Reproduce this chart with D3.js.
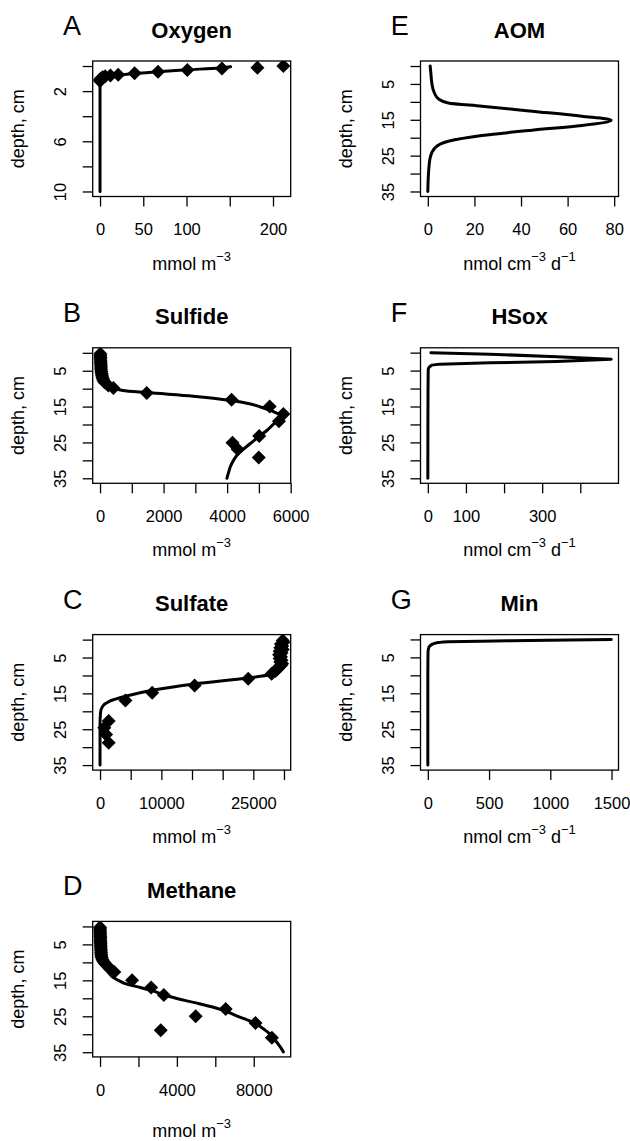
<!DOCTYPE html>
<html>
<head>
<meta charset="utf-8">
<script src="https://cdn.jsdelivr.net/npm/d3@7"></script>
<style>
    body { margin: 0; background: #fff; }
    svg text { font-family: "Liberation Sans", Arial, Helvetica, sans-serif; fill: #000; }
</style>
</head>
<body>
<div id="chart"></div>
<script>
// ---- values ----

// A: oxygen, observations + model
const oxygenObsDepth = [0.0, 0.13, 0.2, 0.32, 0.45, 0.58, 0.7, 0.75, 0.82, 0.9, 1.0, 1.1, 1.2];
const oxygenObsValue = [212, 182, 141, 101, 67, 40, 21, 12, 6, 3, 1, 0, 0];
const oxygenModelDepth = [0.05, 0.15, 0.3, 0.45, 0.6, 0.75, 0.9, 1.05, 1.2, 1.4, 2, 4, 6, 8, 10];
const oxygenModelValue = [151, 138, 102, 67, 40, 20, 9, 3, 1, 0, 0, 0, 0, 0, 0];

// B: sulfide
const sulfideObsDepth = [0.25, 0.75, 1.25, 1.75, 2.25, 2.75, 3.25, 3.75, 4.25, 4.75, 5.25, 5.75, 6.25, 6.75,
    7.25, 7.75, 8.2, 9.1, 9.8, 11.2, 13.1, 15.0, 17.1, 19.1, 23.2, 25.1, 26.9, 29.2];
const sulfideObsValue = [10, 10, 15, 15, 20, 20, 25, 30, 30, 35, 40, 50, 60, 70,
    90, 110, 140, 260, 420, 1470, 4140, 5340, 5770, 5630, 5010, 4170, 4330, 4995];
const sulfideModelDepth = [0, 2, 4, 6, 7, 8, 9, 9.7, 10.5, 11.1, 12.1, 13.3, 14.2, 15.1, 16.0, 16.8, 17.6,
    18.4, 19.8, 21.6, 23.5, 25.3, 27, 28.6, 30, 31.8, 33.5, 35];
const sulfideModelValue = [0, 10, 30, 60, 100, 170, 300, 420, 717, 1478, 2935, 4130, 4700, 5050, 5350, 5560, 5720,
    5640, 5470, 5260, 4980, 4733, 4500, 4310, 4200, 4100, 4040, 3994];

// C: sulfate
const sulfateObsDepth = [0.25, 0.75, 1.25, 1.75, 2.25, 2.75, 3.25, 3.75, 4.25, 4.75, 5.25, 5.75, 6.25, 6.75,
    7.25, 7.75, 8.25, 8.75, 9.55, 10.95, 12.8, 14.85, 17.0, 22.7, 24.6, 26.5, 28.8];
const sulfateObsValue = [29800, 29900, 29500, 29700, 29400, 29800, 29300, 29600, 29200, 29500, 29300, 29600, 29400, 29700,
    29500, 29100, 28900, 28600, 27980, 24160, 15430, 8510, 4140, 1410, 700, 980, 1410];
const sulfateModelDepth = [0, 2, 4, 6, 8, 8.8, 9.75, 10.7, 12.35, 14.1, 15.8, 17.2, 18.6, 20.4, 23.7, 30, 35];
const sulfateModelValue = [29900, 29850, 29800, 29700, 29550, 29350, 27990, 24160, 15430, 8510, 4140, 1520, 430, 80, 0, 0, 0];

// D: methane
const methaneObsDepth = [0.25, 0.75, 1.25, 1.75, 2.25, 2.75, 3.25, 3.75, 4.25, 4.75, 5.25, 5.75, 6.25, 6.75,
    7.25, 7.75, 8.25, 8.75, 9.25, 9.75, 10.25, 10.75, 11.25, 11.8, 12.7, 15.0, 17.0, 19.1, 23.0, 25.0, 26.9, 28.9, 31.0];
const methaneObsValue = [0, 5, 5, 10, 10, 15, 20, 20, 25, 30, 35, 40, 45, 50,
    55, 60, 70, 90, 130, 180, 250, 330, 420, 520, 744, 1666, 2660, 3320, 6540, 4980, 8090, 3160, 8944];
const methaneModelDepth = [0, 3, 6, 8, 9.5, 10.4, 11.5, 12.5, 13.3, 14.1, 15, 16, 17, 17.8, 18.7, 19.5, 20.5, 21.5,
    22.5, 23.6, 24.6, 25.6, 26.6, 27.7, 28.7, 29.8, 31, 32.2, 33.5, 34.9];
const methaneModelValue = [0, 10, 30, 60, 100, 137, 250, 400, 520, 656, 950, 1353, 2100, 2655, 3150, 3607, 4350, 5169,
    5900, 6559, 7000, 7450, 7944, 8300, 8560, 8813, 9000, 9200, 9380, 9542];

// E: AOM rate (model only)
const aomDepth = [0, 2, 4.7, 7.5, 9.2, 10.3, 11.2, 12.6, 14.0, 15.1, 16.6, 17.9, 19.4, 21.0, 22.8, 25.6, 29.8, 35];
const aomValue = [1.0, 1.3, 1.7, 2.8, 4.6, 8.8, 23.2, 44.7, 66.1, 78.7, 66.1, 44.7, 23.2, 8.8, 3.1, 1.0, 0.3, 0];

// F: sulfide oxidation rate
const hsoxDepth = [0.05, 0.42, 1.17, 1.81, 2.45, 2.84, 3.2, 3.48, 4.0, 4.4, 5, 10, 20, 35];
const hsoxValue = [8, 163, 338, 481, 338, 163, 32, 10, 4, 1.6, 1, 0.5, 0.2, 0];

// G: mineralisation rate
const minDepth = [0.05, 0.2, 0.35, 0.47, 0.67, 0.85, 1.1, 1.5, 1.9, 2.5, 3.4, 5, 10, 20, 35];
const minValue = [1497, 984, 650, 437, 164, 90, 55, 28, 14, 6, 2, 1, 0, 0, 0];

// ticks (R drops labels that would overlap, so only some carry text)
const oxygenTicks = [0, 50, 100, 150, 200];
const oxygenTickLabels = [0, 50, 100, 200];
const sulfideTicks = [0, 1000, 2000, 3000, 4000, 5000, 6000];
const sulfideTickLabels = [0, 2000, 4000, 6000];
const sulfateTicks = [0, 5000, 10000, 15000, 20000, 25000, 30000];
const sulfateTickLabels = [0, 10000, 25000];
const methaneTicks = [0, 2000, 4000, 6000, 8000];
const methaneTickLabels = [0, 4000, 8000];
const aomTicks = [0, 20, 40, 60, 80];
const aomTickLabels = [0, 20, 40, 60, 80];
const hsoxTicks = [0, 100, 200, 300, 400];
const hsoxTickLabels = [0, 100, 300];
const minTicks = [0, 500, 1000, 1500];
const minTickLabels = [0, 500, 1000, 1500];
const shallowDepthTicks = [0, 2, 4, 6, 8, 10];
const shallowDepthLabels = [2, 6, 10];
const deepDepthTicks = [0, 5, 10, 15, 20, 25, 30, 35];
const deepDepthLabels = [5, 15, 25, 35];

// ---- layout ----
const colLeft = [92.7, 420.5];
const rowTop = 61, rowPitch = 286.8;
const boxW = 198, boxH = 135.5;

class ProfilePanel {
    constructor(_svg, _config) {
        this.svg = _svg;
        this.config = _config;
        this.initVis();
    }

    initVis() {
        let vis = this;
        let c = vis.config;
        vis.left = colLeft[c.col];
        vis.top = rowTop + c.row * rowPitch;
        vis.width = boxW;
        vis.height = boxH;

        vis.g = vis.svg.append("g")
            .attr("transform", "translate(" + vis.left + "," + vis.top + ")");

        // R default: data range padded by 4% on both sides
        let xs = c.obsValue.concat(c.modelValue);
        let ys = c.obsDepth.concat(c.modelDepth);
        let xMin = d3.min(xs), xMax = d3.max(xs);
        let yMin = d3.min(ys), yMax = d3.max(ys);
        let xPad = 0.04 * (xMax - xMin), yPad = 0.04 * (yMax - yMin);

        vis.x = d3.scaleLinear()
            .domain([xMin - xPad, xMax + xPad])
            .range([0, vis.width]);
        vis.y = d3.scaleLinear()
            .domain([yMin - yPad, yMax + yPad])
            .range([0, vis.height]);   // depth grows downwards

        vis.updateVis();
    }

    updateVis() {
        let vis = this;
        let c = vis.config;

        let clipId = "clip-" + c.letter;
        vis.g.append("clipPath").attr("id", clipId)
            .append("rect").attr("width", vis.width).attr("height", vis.height);

        let plotArea = vis.g.append("g").attr("clip-path", "url(#" + clipId + ")");

        // observations: filled diamonds
        let obs = c.obsDepth.map((d, i) => [c.obsValue[i], d]);
        plotArea.selectAll(".obs")
            .data(obs)
            .enter().append("path")
            .attr("class", "obs")
            .attr("d", "M0,-7L7,0L0,7L-7,0Z")
            .attr("transform", d => "translate(" + vis.x(d[0]) + "," + vis.y(d[1]) + ")")
            .attr("fill", "#000");

        // model profile
        let model = c.modelDepth.map((d, i) => [c.modelValue[i], d]);
        let line = d3.line()
            .x(d => vis.x(d[0]))
            .y(d => vis.y(d[1]))
            .curve(c.curve);
        plotArea.append("path")
            .datum(model)
            .attr("d", line)
            .attr("fill", "none")
            .attr("stroke", "#000")
            .attr("stroke-width", 3)
            .attr("stroke-linejoin", "round")
            .attr("stroke-linecap", "round");

        // box
        vis.g.append("rect")
            .attr("width", vis.width).attr("height", vis.height)
            .attr("fill", "none").attr("stroke", "#000").attr("stroke-width", 1.3);

        // x axis
        let xAxis = d3.axisBottom(vis.x)
            .tickValues(c.xTicks)
            .tickSize(10).tickSizeOuter(0).tickPadding(17)
            .tickFormat(d => c.xLabels.includes(d) ? d : "");
        let gx = vis.g.append("g")
            .attr("transform", "translate(0," + vis.height + ")")
            .call(xAxis)
            .attr("font-size", null).attr("font-family", null);
        gx.select(".domain").remove();
        gx.selectAll("line").attr("stroke-width", 1.3);
        gx.selectAll("text").style("font-size", "16.5px");

        // y axis, labels parallel to the axis
        let yAxis = d3.axisLeft(vis.y)
            .tickValues(c.yTicks)
            .tickSize(10).tickSizeOuter(0)
            .tickFormat(d => c.yLabels.includes(d) ? d : "");
        let gy = vis.g.append("g")
            .call(yAxis)
            .attr("font-size", null).attr("font-family", null);
        gy.select(".domain").remove();
        gy.selectAll("line").attr("stroke-width", 1.3);
        gy.selectAll("text")
            .style("font-size", "16.5px")
            .attr("transform", "rotate(-90)")
            .attr("x", 0).attr("y", -27).attr("dy", null)
            .attr("text-anchor", "middle");

        // titles
        vis.g.append("text")
            .attr("x", vis.width / 2).attr("y", -23.5)
            .attr("text-anchor", "middle")
            .style("font-size", "22px").style("font-weight", "bold")
            .text(c.title);
        vis.g.append("text")
            .attr("x", -29.7).attr("y", -26)
            .style("font-size", "27px")
            .text(c.letter);

        vis.g.append("text")
            .attr("transform", "translate(-69," + vis.height / 2 + ") rotate(-90)")
            .attr("text-anchor", "middle")
            .style("font-size", "18px")
            .text("depth, cm");

        let xlab = vis.g.append("text")
            .attr("x", vis.width / 2).attr("y", vis.height + (c.xlabOffset || 73))
            .attr("text-anchor", "middle")
            .style("font-size", "18px");
        if (c.rate) {
            xlab.append("tspan").text("nmol cm");
            xlab.append("tspan").attr("dy", -9).style("font-size", "13px").text("\u22123");
            xlab.append("tspan").attr("dy", 9).text(" d");
            xlab.append("tspan").attr("dy", -9).style("font-size", "13px").text("\u22121");
        } else {
            xlab.append("tspan").text("mmol m");
            xlab.append("tspan").attr("dy", -9).style("font-size", "13px").text("\u22123");
        }
    }
}

const svg = d3.select("#chart").append("svg")
    .attr("width", 630)
    .attr("height", 1141)
    .style("background", "#fff");

const panels = [
    { letter: "A", title: "Oxygen", col: 0, row: 0,
      obsDepth: oxygenObsDepth, obsValue: oxygenObsValue, modelDepth: oxygenModelDepth, modelValue: oxygenModelValue,
      xTicks: oxygenTicks, xLabels: oxygenTickLabels, yTicks: shallowDepthTicks, yLabels: shallowDepthLabels,
      curve: d3.curveMonotoneY },
    { letter: "B", title: "Sulfide", col: 0, row: 1,
      obsDepth: sulfideObsDepth, obsValue: sulfideObsValue, modelDepth: sulfideModelDepth, modelValue: sulfideModelValue,
      xTicks: sulfideTicks, xLabels: sulfideTickLabels, yTicks: deepDepthTicks, yLabels: deepDepthLabels,
      curve: d3.curveMonotoneY },
    { letter: "C", title: "Sulfate", col: 0, row: 2,
      obsDepth: sulfateObsDepth, obsValue: sulfateObsValue, modelDepth: sulfateModelDepth, modelValue: sulfateModelValue,
      xTicks: sulfateTicks, xLabels: sulfateTickLabels, yTicks: deepDepthTicks, yLabels: deepDepthLabels,
      curve: d3.curveMonotoneY },
    { letter: "D", title: "Methane", col: 0, row: 3, xlabOffset: 80,
      obsDepth: methaneObsDepth, obsValue: methaneObsValue, modelDepth: methaneModelDepth, modelValue: methaneModelValue,
      xTicks: methaneTicks, xLabels: methaneTickLabels, yTicks: deepDepthTicks, yLabels: deepDepthLabels,
      curve: d3.curveMonotoneY },
    { letter: "E", title: "AOM", col: 1, row: 0, rate: true,
      obsDepth: [], obsValue: [], modelDepth: aomDepth, modelValue: aomValue,
      xTicks: aomTicks, xLabels: aomTickLabels, yTicks: deepDepthTicks, yLabels: deepDepthLabels,
      curve: d3.curveMonotoneY },
    { letter: "F", title: "HSox", col: 1, row: 1, rate: true,
      obsDepth: [], obsValue: [], modelDepth: hsoxDepth, modelValue: hsoxValue,
      xTicks: hsoxTicks, xLabels: hsoxTickLabels, yTicks: deepDepthTicks, yLabels: deepDepthLabels,
      curve: d3.curveLinear },
    { letter: "G", title: "Min", col: 1, row: 2, rate: true,
      obsDepth: [], obsValue: [], modelDepth: minDepth, modelValue: minValue,
      xTicks: minTicks, xLabels: minTickLabels, yTicks: deepDepthTicks, yLabels: deepDepthLabels,
      curve: d3.curveMonotoneY }
];

panels.forEach(p => new ProfilePanel(svg, p));
</script>
</body>
</html>
